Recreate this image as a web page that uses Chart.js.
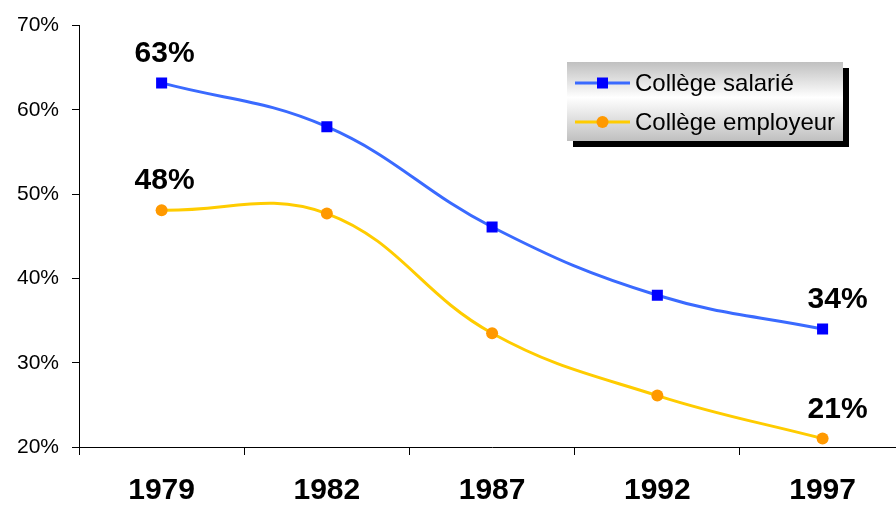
<!DOCTYPE html>
<html>
<head>
<meta charset="utf-8">
<script src="https://cdn.jsdelivr.net/npm/chart.js@4"></script>
<style>
  html, body { margin: 0; padding: 0; background: #fff; overflow: hidden; }
  #wrap { width: 896px; height: 506px; overflow: hidden; }
</style>
</head>
<body>
<!-- the plot area runs a little past the right edge, as in the original -->
<div id="wrap"><canvas id="chart" width="913" height="506"></canvas></div>
<script>
const years = ['1979', '1982', '1987', '1992', '1997'];
const salarie = [63.2, 58.0, 46.1, 38.0, 34.0];
const employeur = [48.1, 47.7, 33.5, 26.1, 21.0];
const seriesNames = ['Collège salarié', 'Collège employeur'];
const yTicks = [20, 30, 40, 50, 60, 70];
// values shown above the first and last points
const pointLabels = [
    { series: 0, index: 0, text: '63%' },
    { series: 1, index: 0, text: '48%' },
    { series: 0, index: 4, text: '34%' },
    { series: 1, index: 4, text: '21%' }
];

const FONT = '"Liberation Sans", Arial, sans-serif';

const labelPlugin = {
    id: 'pointLabels',
    afterDatasetsDraw(chart) {
        const ctx = chart.ctx;
        ctx.save();
        ctx.font = 'bold 30px ' + FONT;
        ctx.fillStyle = '#000';
        ctx.textAlign = 'center';
        ctx.textBaseline = 'alphabetic';
        pointLabels.forEach(l => {
            const pt = chart.getDatasetMeta(l.series).data[l.index];
            const dx = l.index === 0 ? 3 : 15;
            ctx.fillText(l.text, pt.x + dx, pt.y - 21);
        });
        ctx.restore();
    }
};

const legendPlugin = {
    id: 'boxLegend',
    afterDraw(chart) {
        const ctx = chart.ctx;
        const x = 567, y = 62, w = 276, h = 79;
        ctx.save();
        ctx.fillStyle = '#000';
        ctx.fillRect(x + 6, y + 6, w, h);
        const grad = ctx.createLinearGradient(0, y, 0, y + h);
        grad.addColorStop(0, '#c0c0c0');
        grad.addColorStop(0.45, '#ffffff');
        grad.addColorStop(1, '#c0c0c0');
        ctx.fillStyle = grad;
        ctx.fillRect(x, y, w, h);
        ctx.font = '24px ' + FONT;
        ctx.textBaseline = 'middle';
        ctx.textAlign = 'left';
        chart.data.datasets.forEach((ds, i) => {
            const cy = y + 21 + i * 39;
            ctx.strokeStyle = ds.borderColor;
            ctx.lineWidth = 3;
            ctx.beginPath();
            ctx.moveTo(x + 8, cy);
            ctx.lineTo(x + 63, cy);
            ctx.stroke();
            ctx.fillStyle = ds.pointBackgroundColor;
            if (ds.pointStyle === 'rect') {
                ctx.fillRect(x + 30, cy - 5.5, 11, 11);
            } else {
                ctx.beginPath();
                ctx.arc(x + 35.5, cy, 6, 0, Math.PI * 2);
                ctx.fill();
            }
            ctx.fillStyle = '#000';
            ctx.fillText(ds.label, x + 68, cy + 1);
        });
        ctx.restore();
    }
};

new Chart(document.getElementById('chart'), {
    type: 'line',
    data: {
        labels: years,
        datasets: [
            {
                label: seriesNames[0],
                data: salarie,
                borderColor: '#3a6aff',
                borderWidth: 3,
                pointStyle: 'rect',
                pointRadius: 7.8,
                pointBackgroundColor: '#0000ff',
                pointBorderColor: '#0000ff',
                pointBorderWidth: 0,
                tension: 0.4
            },
            {
                label: seriesNames[1],
                data: employeur,
                borderColor: '#ffcc00',
                borderWidth: 3,
                pointStyle: 'circle',
                pointRadius: 6,
                pointBackgroundColor: '#ff9900',
                pointBorderColor: '#ff9900',
                pointBorderWidth: 0,
                tension: 0.4
            }
        ]
    },
    options: {
        responsive: false,
        animation: false,
        layout: { padding: { top: 24, right: 0, left: 0, bottom: 0 } },
        plugins: {
            legend: { display: false },
            tooltip: { enabled: false }
        },
        scales: {
            x: {
                offset: true,
                border: { color: '#000', width: 1 },
                grid: { display: true, drawOnChartArea: false, drawTicks: true, tickLength: 8, color: '#000', offset: true },
                ticks: { color: '#000', font: { family: FONT, size: 30, weight: 'bold' }, padding: 18, maxRotation: 0 },
                afterFit(scale) {
                    scale.height = 59;
                    scale.paddingLeft = 0;
                    scale.paddingRight = 0;
                }
            },
            y: {
                min: 20,
                max: 70,
                border: { color: '#000', width: 1 },
                grid: { display: true, drawOnChartArea: false, drawTicks: true, tickLength: 7, color: '#000' },
                afterBuildTicks(scale) { scale.ticks = yTicks.map(v => ({ value: v })); },
                ticks: {
                    color: '#000',
                    font: { family: FONT, size: 21 },
                    padding: 13,
                    callback: v => v + '%'
                },
                afterFit(scale) { scale.width = 79; }
            }
        }
    },
    plugins: [labelPlugin, legendPlugin]
});
</script>
</body>
</html>
